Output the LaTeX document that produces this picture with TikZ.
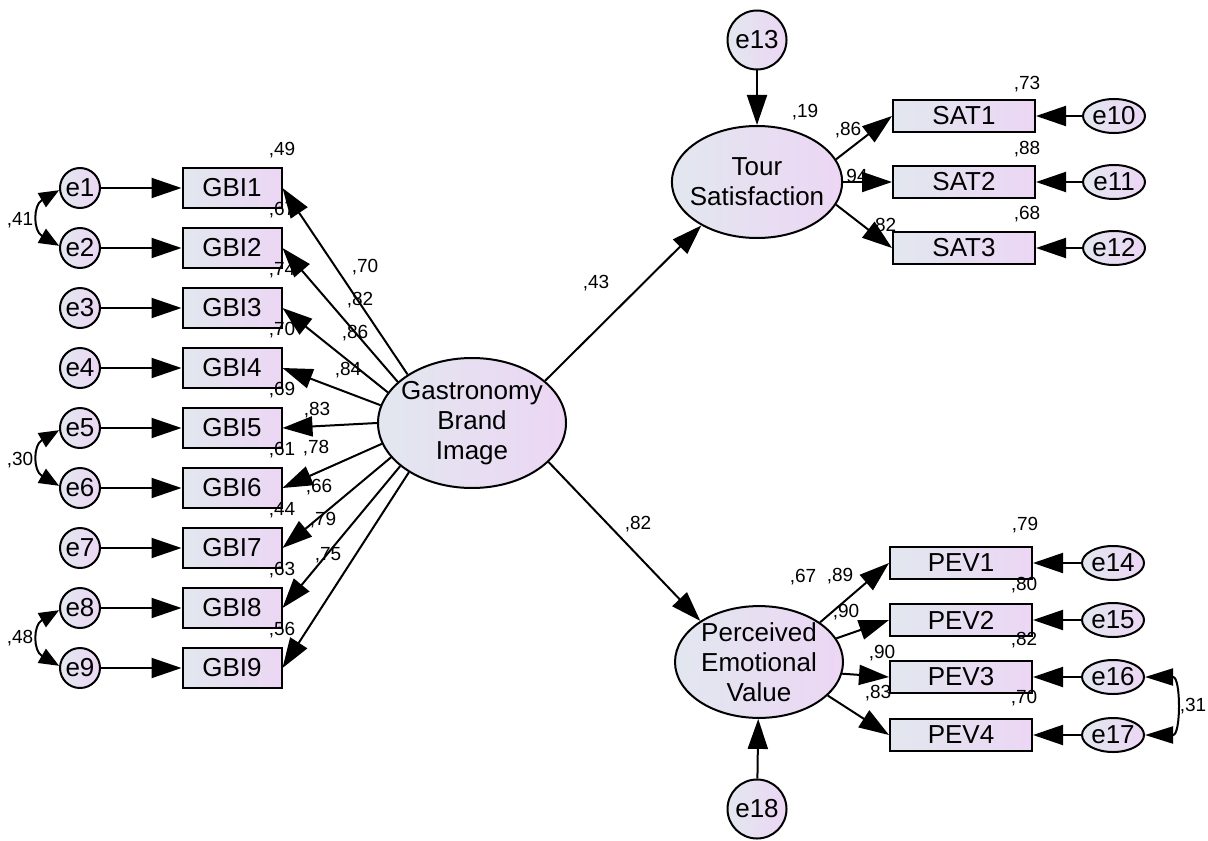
\documentclass[tikz,border=0pt]{standalone}
\usepackage{fontspec}
\setmainfont{Liberation Sans}
\usetikzlibrary{arrows.meta,shapes.geometric}

\definecolor{fillL}{RGB}{226,231,239}
\definecolor{fillR}{RGB}{236,214,244}

\tikzset{
  shade box/.style={draw,line width=1pt,left color=fillL,right color=fillR,inner sep=0pt,font=\fontsize{13}{15}\selectfont},
  gbibox/.style={shade box,minimum width=49.5pt,minimum height=20pt},
  indbox/.style={shade box,minimum width=71pt,minimum height=16pt},
  errc/.style={shade box,circle,minimum size=20pt},
  bigerr/.style={shade box,circle,minimum size=29.5pt},
  erre/.style={shade box,ellipse,minimum width=31pt,minimum height=17pt},
  latent/.style={shade box,ellipse,align=center},
  regr/.style={line width=1pt,-{Triangle[length=15pt,width=10pt]}},
  covar/.style={line width=1pt,{Triangle[length=10pt,width=8pt]}-{Triangle[length=10pt,width=8pt]}},
  covbig/.style={line width=1pt,{Triangle[length=14pt,width=8.5pt]}-{Triangle[length=14pt,width=8.5pt]}},
  est/.style={inner sep=0pt,font=\fontsize{9.5}{11}\selectfont}
}

\begin{document}
\begin{tikzpicture}[x=0.5pt,y=-0.5pt]
\useasboundingbox (0,0) rectangle (1208,840);

\node[latent,minimum width=94pt,minimum height=65pt,inner xsep=-2.2pt] (gbi) at (472,423) {Gastronomy\\Brand\\Image};
\node[latent,minimum width=85pt,minimum height=56pt,inner xsep=-3.5pt] (tour) at (757,182) {Tour\\Satisfaction};
\node[latent,minimum width=84pt,minimum height=55pt] (pev) at (759,662) {Perceived\\Emotional\\Value};

\node[gbibox] (gbi1) at (232,188) {GBI1};
\node[gbibox] (gbi2) at (232,248) {GBI2};
\node[gbibox] (gbi3) at (232,308) {GBI3};
\node[gbibox] (gbi4) at (232,368) {GBI4};
\node[gbibox] (gbi5) at (232,428) {GBI5};
\node[gbibox] (gbi6) at (232,488) {GBI6};
\node[gbibox] (gbi7) at (232,548) {GBI7};
\node[gbibox] (gbi8) at (232,608) {GBI8};
\node[gbibox] (gbi9) at (232,668) {GBI9};

\node[errc] (e1) at (80,188) {e1};
\node[errc] (e2) at (80,248) {e2};
\node[errc] (e3) at (80,308) {e3};
\node[errc] (e4) at (80,368) {e4};
\node[errc] (e5) at (80,428) {e5};
\node[errc] (e6) at (80,488) {e6};
\node[errc] (e7) at (80,548) {e7};
\node[errc] (e8) at (80,608) {e8};
\node[errc] (e9) at (80,668) {e9};

\node[indbox] (sat1) at (964,116) {SAT1};
\node[indbox] (sat2) at (964,182) {SAT2};
\node[indbox] (sat3) at (964,248) {SAT3};
\node[erre] (e10) at (1114,116) {e10};
\node[erre] (e11) at (1114,182) {e11};
\node[erre] (e12) at (1114,248) {e12};
\node[bigerr] (e13) at (757,40) {e13};

\node[indbox] (pev1) at (961,563) {PEV1};
\node[indbox] (pev2) at (961,620) {PEV2};
\node[indbox] (pev3) at (961,677) {PEV3};
\node[indbox] (pev4) at (961,735) {PEV4};
\node[erre] (e14) at (1113,563) {e14};
\node[erre] (e15) at (1113,620) {e15};
\node[erre] (e16) at (1113,677) {e16};
\node[erre] (e17) at (1113,735) {e17};
\node[bigerr] (e18) at (757,809) {e18};

\draw[regr] (e1) -- (gbi1);
\draw[regr] (e2) -- (gbi2);
\draw[regr] (e3) -- (gbi3);
\draw[regr] (e4) -- (gbi4);
\draw[regr] (e5) -- (gbi5);
\draw[regr] (e6) -- (gbi6);
\draw[regr] (e7) -- (gbi7);
\draw[regr] (e8) -- (gbi8);
\draw[regr] (e9) -- (gbi9);

\draw[covar] (e1.186) -- ++(210:10pt) .. controls +(210:5pt) and +(150:5pt) .. ([shift={(150:10pt)}]e2.174) -- (e2.174);
\draw[covar] (e5.186) -- ++(210:10pt) .. controls +(210:5pt) and +(150:5pt) .. ([shift={(150:10pt)}]e6.174) -- (e6.174);
\draw[covar] (e8.186) -- ++(210:10pt) .. controls +(210:5pt) and +(150:5pt) .. ([shift={(150:10pt)}]e9.174) -- (e9.174);

\draw[regr] (gbi.143) -- (gbi1.east);
\draw[regr] (gbi.151) -- (gbi2.east);
\draw[regr] (gbi.160) -- (gbi3.east);
\draw[regr] (gbi.169) -- (gbi4.east);
\draw[regr] (gbi.west) -- (gbi5.east);
\draw[regr] (gbi.193) -- (gbi6.east);
\draw[regr] (gbi.203) -- (gbi7.east);
\draw[regr] (gbi.211) -- (gbi8.east);
\draw[regr] (gbi.218) -- (gbi9.east);

\draw[regr] (gbi.30) -- (tour.218);
\draw[regr] (gbi.-27) -- (pev.145);

\draw[regr] (e13) -- (tour);
\draw[regr] (tour.16) -- (sat1.west);
\draw[regr] (tour.east) -- (sat2.west);
\draw[regr] (tour.-16) -- (sat3.west);
\draw[regr] (e10) -- (sat1);
\draw[regr] (e11) -- (sat2);
\draw[regr] (e12) -- (sat3);

\draw[regr] (e18) -- (pev);
\draw[regr] (pev.33) -- (pev1.west);
\draw[regr] (pev.17) -- (pev2.west);
\draw[regr] (pev.-8) -- (pev3.west);
\draw[regr] (pev.-26) -- (pev4.west);
\draw[regr] (e14) -- (pev1);
\draw[regr] (e15) -- (pev2);
\draw[regr] (e16) -- (pev3);
\draw[regr] (e17) -- (pev4);
\draw[covbig] (e16.east) -- ++(14pt,0) .. controls +(4pt,0) and +(4pt,0) .. ([shift={(14pt,0)}]e17.east) -- (e17.east);

\node[est] (c41) at (20,220) {,41};
\node[est] (c30) at (20,460) {,30};
\node[est] (c48) at (20,638) {,48};
\node[est] (c31) at (1193,706) {,31};

\node[est] (r1) at (282,150) {,49};
\node[est] (r2) at (282,210) {,67};
\node[est] (r3) at (282,270) {,74};
\node[est] (r4) at (282,330) {,70};
\node[est] (r5) at (282,390) {,69};
\node[est] (r6) at (282,450) {,61};
\node[est] (r7) at (282,510) {,44};
\node[est] (r8) at (282,570) {,63};
\node[est] (r9) at (282,630) {,56};

\node[est] (l1) at (365,267) {,70};
\node[est] (l2) at (360,300) {,82};
\node[est] (l3) at (355,333) {,86};
\node[est] (l4) at (348,370) {,84};
\node[est] (l5) at (317,410) {,83};
\node[est] (l6) at (316,448) {,78};
\node[est] (l7) at (319,487) {,66};
\node[est] (l8) at (323,520) {,79};
\node[est] (l9) at (328,555) {,75};

\node[est] (b43) at (596,283) {,43};
\node[est] (b82) at (638,524) {,82};

\node[est] (rtour) at (805,112) {,19};
\node[est] (ls1) at (848,130) {,86};
\node[est] (ls2) at (857,176) {94};
\node[est] (ls3) at (883,226) {,82};
\node[est] (rs1) at (1027,84) {,73};
\node[est] (rs2) at (1027,149) {,88};
\node[est] (rs3) at (1027,214) {,68};

\node[est] (rpev) at (803,577) {,67};
\node[est] (lp1) at (840,576) {,89};
\node[est] (lp2) at (846,612) {,90};
\node[est] (lp3) at (882,653) {,90};
\node[est] (lp4) at (878,693) {,83};
\node[est] (rp1) at (1025,525) {,79};
\node[est] (rp2) at (1024,585) {,80};
\node[est] (rp3) at (1024,640) {,82};
\node[est] (rp4) at (1024,698) {,70};

\end{tikzpicture}
\end{document}
